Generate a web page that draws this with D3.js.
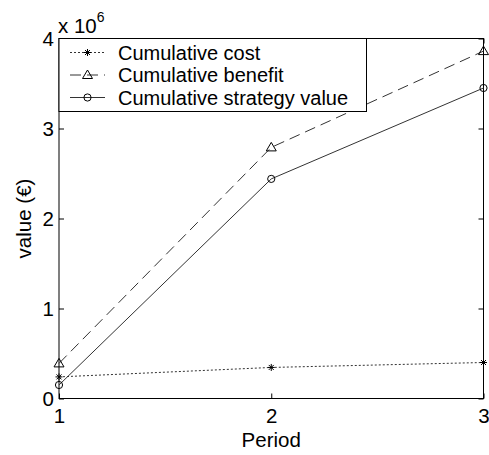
<!DOCTYPE html>
<html>
<head>
<meta charset="utf-8">
<script src="https://cdn.jsdelivr.net/npm/d3@7"></script>
<style>
  body { margin: 0; background: #fff; }
  svg { display: block; font-family: "Liberation Sans", Arial, sans-serif; }
</style>
</head>
<body>
<svg id="chart" width="489" height="455"></svg>
<script>
// Periods and cumulative values (in units of 10^6 €)
const periods = [1, 2, 3];
const cumulativeCost = [0.24, 0.345, 0.40];
const cumulativeBenefit = [0.39, 2.79, 3.86];
const cumulativeStrategy = [0.15, 2.44, 3.45];
const yTicks = [0, 1, 2, 3, 4];
const xTicks = [1, 2, 3];
const seriesNames = ["Cumulative cost", "Cumulative benefit", "Cumulative strategy value"];

const svg = d3.select("#chart");
const plotLeft = 59, plotRight = 483.5, plotTop = 38.5, plotBottom = 398.5;
const axisFont = 20.5;

const x = d3.scaleLinear().domain([1, 3]).range([plotLeft, plotRight]);
const y = d3.scaleLinear().domain([0, 4]).range([plotBottom, plotTop]);

const series = [
  { name: seriesNames[0], values: cumulativeCost, dash: "2,2", marker: "star" },
  { name: seriesNames[1], values: cumulativeBenefit, dash: "11,6", marker: "triangle" },
  { name: seriesNames[2], values: cumulativeStrategy, dash: null, marker: "circle" }
];

// axes box
svg.append("rect")
  .attr("x", plotLeft).attr("y", plotTop)
  .attr("width", plotRight - plotLeft).attr("height", plotBottom - plotTop)
  .attr("fill", "none").attr("stroke", "#000").attr("stroke-width", 1);

// inward ticks on all four sides
const tickLen = 5;
const axL = d3.axisLeft(y).tickValues(yTicks).tickSize(-tickLen).tickPadding(5).tickFormat(d3.format("d"));
const axR = d3.axisRight(y).tickValues(yTicks).tickSize(-tickLen).tickFormat("");
const axB = d3.axisBottom(x).tickValues(xTicks).tickSize(-tickLen).tickPadding(10).tickFormat(d3.format("d"));
const axT = d3.axisTop(x).tickValues(xTicks).tickSize(-tickLen).tickFormat("");

function styleAxis(g) {
  g.select(".domain").remove();
  g.selectAll("line").attr("stroke", "#000");
  g.selectAll("text").attr("fill", "#000").attr("font-size", axisFont)
    .attr("font-family", "Liberation Sans, Arial, sans-serif");
}
svg.append("g").attr("transform", `translate(${plotLeft},0)`).call(axL).call(styleAxis);
svg.append("g").attr("transform", `translate(${plotRight},0)`).call(axR).call(styleAxis);
svg.append("g").attr("transform", `translate(0,${plotBottom})`).call(axB).call(styleAxis);
svg.append("g").attr("transform", `translate(0,${plotTop})`).call(axT).call(styleAxis);

// lines
const line = d3.line().x((d, i) => x(periods[i])).y(d => y(d));
series.forEach(s => {
  svg.append("path")
    .datum(s.values)
    .attr("d", line)
    .attr("fill", "none")
    .attr("stroke", "#333")
    .attr("stroke-width", 1)
    .attr("stroke-dasharray", s.dash);
});

// markers
function drawMarker(g, type, cx, cy) {
  if (type === "circle") {
    g.append("circle").attr("cx", cx).attr("cy", cy).attr("r", 3.6)
      .attr("fill", "none").attr("stroke", "#000").attr("stroke-width", 1);
  } else if (type === "triangle") {
    const r = 5;
    g.append("path")
      .attr("d", `M${cx},${cy - r} L${cx + r},${cy + r * 0.7} L${cx - r},${cy + r * 0.7} Z`)
      .attr("fill", "none").attr("stroke", "#000").attr("stroke-width", 1);
  } else {
    const r = 3.5;
    g.append("path")
      .attr("d", `M${cx - r},${cy} L${cx + r},${cy} M${cx},${cy - r} L${cx},${cy + r} M${cx - 2.5},${cy - 2.5} L${cx + 2.5},${cy + 2.5} M${cx - 2.5},${cy + 2.5} L${cx + 2.5},${cy - 2.5}`)
      .attr("fill", "none").attr("stroke", "#000").attr("stroke-width", 1);
  }
}
series.forEach(s => {
  const g = svg.append("g");
  s.values.forEach((v, i) => drawMarker(g, s.marker, x(periods[i]), y(v)));
});

// legend
const lg = svg.append("g");
lg.append("rect")
  .attr("x", plotLeft).attr("y", plotTop)
  .attr("width", 307.5).attr("height", 73)
  .attr("fill", "#fff").attr("stroke", "#000").attr("stroke-width", 1);
series.forEach((s, i) => {
  const yy = plotTop + 14 + i * 22.5;
  lg.append("line")
    .attr("x1", plotLeft + 11).attr("x2", plotLeft + 46)
    .attr("y1", yy).attr("y2", yy)
    .attr("stroke", "#333").attr("stroke-width", 1)
    .attr("stroke-dasharray", s.dash);
  drawMarker(lg, s.marker, plotLeft + 28.5, yy);
  lg.append("text")
    .attr("x", plotLeft + 59).attr("y", yy + 7)
    .attr("font-size", 20).attr("fill", "#000")
    .text(s.name);
});

// exponent label
const ex = svg.append("text").attr("x", 58).attr("y", 33).attr("font-size", axisFont).attr("fill", "#000");
ex.append("tspan").text("x 10");
ex.append("tspan").attr("dy", -11).attr("font-size", 14).text("6");

// axis titles
svg.append("text")
  .attr("x", (plotLeft + plotRight) / 2).attr("y", 447)
  .attr("text-anchor", "middle").attr("font-size", axisFont).attr("fill", "#000")
  .text("Period");
svg.append("text")
  .attr("transform", `translate(31,${(plotTop + plotBottom) / 2}) rotate(-90)`)
  .attr("text-anchor", "middle").attr("font-size", axisFont).attr("fill", "#000")
  .text("value (€)");
</script>
</body>
</html>
